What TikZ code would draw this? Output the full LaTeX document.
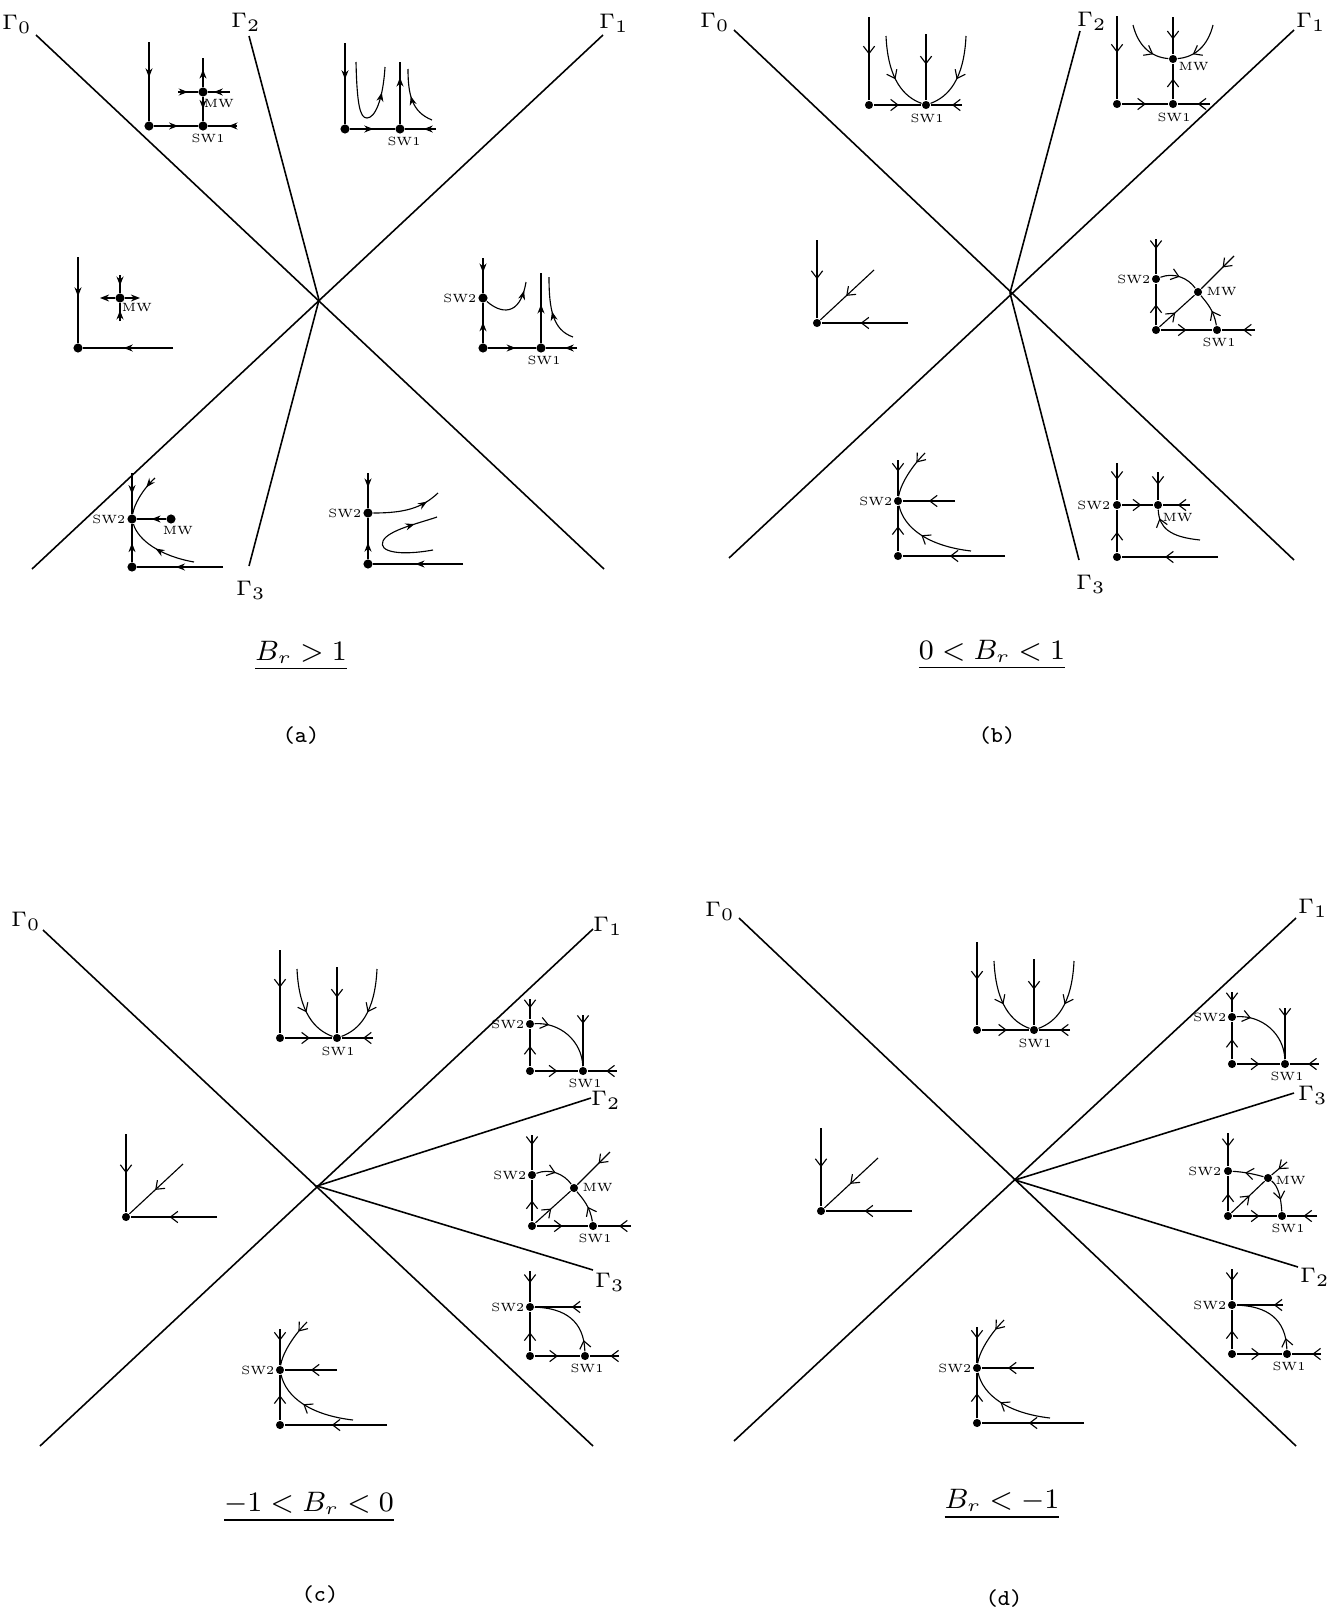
\documentclass[tikz,border=0pt]{standalone}
\usepackage{tikz}
\usetikzlibrary{arrows.meta,decorations.markings}
\tikzset{
  ph/gamma/.style={line width=0.45pt},
  ph/flow/.style={line width=0.32pt},
  ph/dot/.style={circle,fill=black,inner sep=0pt,minimum size=2.3pt},
  ph/mid/.style={postaction={decorate,decoration={markings,mark=at position #1 with {\arrow{>}}}}},
  ph/lbl/.style={font=\fontsize{3.4}{4}\selectfont,inner sep=0pt},
  ph/glbl/.style={font=\fontsize{6.5}{8}\selectfont,inner sep=0pt},
  ph/title/.style={font=\fontsize{7.6}{9}\selectfont,inner sep=0pt},
  ph/tag/.style={font=\fontsize{6.5}{8}\selectfont\ttfamily,inner sep=0pt},
  pics/sink/.style={code={
    \node[ph/dot] (-o) at (0,0) {};
    \node[ph/dot] (-sw1) at (57,0) {};
    \coordinate (-top) at (0,-88);
    \coordinate (-end) at (93,0);
    \coordinate (-vtop) at (57,-71);
    \coordinate (-lc) at (17,-69);
    \coordinate (-rc) at (97,-69);
    \node[ph/lbl] (-t1) at (58,13) {SW1};
    \draw[ph/flow,ph/mid=0.45] (-top) -- (-o);
    \draw[ph/flow,ph/mid=0.53] (-o) -- (-sw1);
    \draw[ph/flow,ph/mid=0.32] (-end) -- (-sw1);
    \draw[ph/flow,ph/mid=0.46] (-vtop) -- (-sw1);
    \draw[ph/flow,ph/mid=0.55] (-lc) .. controls (19,-25) and (35,-8) .. (-sw1);
    \draw[ph/flow,ph/mid=0.55] (-rc) .. controls (95,-25) and (79,-8) .. (-sw1);
  }},
  pics/diag/.style={code={
    \node[ph/dot] (-o) at (0,0) {};
    \coordinate (-top) at (0,-83);
    \coordinate (-end) at (91,0);
    \coordinate (-dtop) at (57,-53);
    \draw[ph/flow,ph/mid=0.5] (-top) -- (-o);
    \draw[ph/flow,ph/mid=0.55] (-end) -- (-o);
    \draw[ph/flow,ph/mid=0.52] (-dtop) -- (-o);
  }},
  pics/swtwo/.style={code={
    \node[ph/dot] (-o) at (0,0) {};
    \node[ph/dot] (-sw2) at (0,-55) {};
    \coordinate (-top) at (0,-96);
    \coordinate (-end) at (107,0);
    \coordinate (-hend) at (57,-55);
    \coordinate (-uc) at (27,-103);
    \coordinate (-lc) at (73,-5);
    \node[ph/lbl,anchor=east] (-t2) at (-5,-55) {SW2};
    \draw[ph/flow,ph/mid=0.32] (-top) -- (-sw2);
    \draw[ph/flow,ph/mid=0.55] (-o) -- (-sw2);
    \draw[ph/flow,ph/mid=0.54] (-end) -- (-o);
    \draw[ph/flow,ph/mid=0.5] (-hend) -- (-sw2);
    \draw[ph/flow,ph/mid=0.25] (-uc) .. controls (12,-88) and (2,-70) .. (-sw2);
    \draw[ph/flow,ph/mid=0.58] (-lc) .. controls (30,-10) and (6,-28) .. (-sw2);
  }},
  pics/arcdown/.style={code={
    \node[ph/dot] (-o) at (0,0) {};
    \node[ph/dot] (-sw2) at (0,-47) {};
    \node[ph/dot] (-sw1) at (53,0) {};
    \coordinate (-top) at (0,-72);
    \coordinate (-end) at (87,0);
    \coordinate (-vtop) at (53,-56);
    \node[ph/lbl,anchor=east] (-t2) at (-5,-47) {SW2};
    \node[ph/lbl] (-t1) at (55,12) {SW1};
    \draw[ph/flow,ph/mid=0.45] (-top) -- (-sw2);
    \draw[ph/flow,ph/mid=0.54] (-o) -- (-sw2);
    \draw[ph/flow,ph/mid=0.52] (-o) -- (-sw1);
    \draw[ph/flow,ph/mid=0.37] (-end) -- (-sw1);
    \draw[ph/flow,ph/mid=0.17] (-vtop) -- (-sw1);
    \draw[ph/flow,ph/mid=0.2] (-sw2) .. controls (30,-49) and (52,-30) .. (-sw1);
  }},
  pics/arcup/.style={code={
    \node[ph/dot] (-o) at (0,0) {};
    \node[ph/dot] (-sw2) at (0,-49) {};
    \node[ph/dot] (-sw1) at (55,0) {};
    \coordinate (-top) at (0,-85);
    \coordinate (-end) at (89,0);
    \coordinate (-hend) at (51,-49);
    \node[ph/lbl,anchor=east] (-t2) at (-5,-49) {SW2};
    \node[ph/lbl] (-t1) at (57,12) {SW1};
    \draw[ph/flow,ph/mid=0.38] (-top) -- (-sw2);
    \draw[ph/flow,ph/mid=0.48] (-o) -- (-sw2);
    \draw[ph/flow,ph/mid=0.51] (-o) -- (-sw1);
    \draw[ph/flow,ph/mid=0.3] (-end) -- (-sw1);
    \draw[ph/flow,ph/mid=0.2] (-hend) -- (-sw2);
    \draw[ph/flow,ph/mid=0.15] (-sw1) .. controls (54,-35) and (35,-48) .. (-sw2);
  }},
  pics/mwnode/.style={code={
    \node[ph/dot] (-o) at (0,0) {};
    \node[ph/dot] (-sw2) at (0,-51) {};
    \node[ph/dot] (-sw1) at (61,0) {};
    \node[ph/dot] (-mw) at (42,-38) {};
    \coordinate (-top) at (0,-91);
    \coordinate (-end) at (99,0);
    \coordinate (-dtop) at (78,-74);
    \node[ph/lbl,anchor=west] (-t3) at (50,-38) {MW};
    \node[ph/lbl,anchor=east] (-t2) at (-5,-51) {SW2};
    \node[ph/lbl] (-t1) at (63,12) {SW1};
    \draw[ph/flow,ph/mid=0.28] (-top) -- (-sw2);
    \draw[ph/flow,ph/mid=0.5] (-o) -- (-sw2);
    \draw[ph/flow,ph/mid=0.5] (-o) -- (-sw1);
    \draw[ph/flow,ph/mid=0.36] (-end) -- (-sw1);
    \draw[ph/flow,ph/mid=0.45] (-o) -- (-mw);
    \draw[ph/flow,ph/mid=0.35] (-dtop) -- (-mw);
    \draw[ph/flow,ph/mid=0.5] (-sw2) .. controls (18,-58) and (32,-52) .. (-mw);
    \draw[ph/flow,ph/mid=0.45] (-sw1) .. controls (58,-20) and (50,-28) .. (-mw);
  }}
}

\begin{document}
\begin{tikzpicture}[x=0.01cm,y=-0.01cm,>={Straight Barb[length=2.1pt,width=3.2pt]}]
  \useasboundingbox (0,0) rectangle (1327,1612);

  \coordinate (a-c) at (319,300);
  \coordinate (a-g0) at (36,35);
  \coordinate (a-g0e) at (604,569);
  \coordinate (a-g1) at (603,35);
  \coordinate (a-g1e) at (32,569);
  \coordinate (a-g2) at (249,36);
  \coordinate (a-g3) at (249,566);
  \draw[ph/gamma] (a-g0) -- (a-g0e);
  \draw[ph/gamma] (a-g1) -- (a-g1e);
  \draw[ph/gamma] (a-g2) -- (a-c) -- (a-g3);
  \node[ph/glbl] (a-l0) at (17,24) {$\Gamma_0$};
  \node[ph/glbl] (a-l1) at (614,23) {$\Gamma_1$};
  \node[ph/glbl] (a-l2) at (246,22) {$\Gamma_2$};
  \node[ph/glbl] (a-l3) at (251,590) {$\Gamma_3$};
  \node[ph/title] (a-title) at (301,656) {$\underline{B_r > 1}$};
  \node[ph/tag] (a-tag) at (301,736) {(a)};

  \begin{scope}[>={Stealth[length=2.6pt,width=2pt]},ph/dot/.append style={minimum size=2.6pt}]
    \node[ph/dot] (a1-o) at (149,126) {};
    \node[ph/dot] (a1-sw1) at (203,126) {};
    \node[ph/dot] (a1-mw) at (203,92) {};
    \coordinate (a1-top) at (149,42);
    \coordinate (a1-end) at (237,126);
    \coordinate (a1-vtop) at (203,58);
    \coordinate (a1-ml) at (178,92);
    \coordinate (a1-mr) at (230,92);
    \node[ph/lbl] (a1-t1) at (208,138) {SW1};
    \node[ph/lbl] (a1-t3) at (219,104) {MW};
    \draw[ph/flow,ph/mid=0.45] (a1-top) -- (a1-o);
    \draw[ph/flow,ph/mid=0.55] (a1-o) -- (a1-sw1);
    \draw[ph/flow,ph/mid=0.3] (a1-end) -- (a1-sw1);
    \draw[ph/flow,ph/mid=0.6] (a1-mw) -- (a1-vtop);
    \draw[ph/flow,ph/mid=0.5] (a1-mw) -- (a1-sw1);
    \draw[ph/flow,ph/mid=0.5] (a1-ml) -- (a1-mw);
    \draw[ph/flow,ph/mid=0.75] (a1-mr) -- (a1-mw);

    \node[ph/dot] (a2-o) at (345,129) {};
    \node[ph/dot] (a2-sw1) at (400,129) {};
    \coordinate (a2-top) at (345,43);
    \coordinate (a2-end) at (436,129);
    \coordinate (a2-vtop) at (400,62);
    \coordinate (a2-u1) at (356,62);
    \coordinate (a2-u2) at (385,67);
    \coordinate (a2-r1) at (432,120);
    \coordinate (a2-r2) at (408,69);
    \node[ph/lbl] (a2-t1) at (404,141) {SW1};
    \draw[ph/flow,ph/mid=0.45] (a2-top) -- (a2-o);
    \draw[ph/flow,ph/mid=0.52] (a2-o) -- (a2-sw1);
    \draw[ph/flow,ph/mid=0.4] (a2-end) -- (a2-sw1);
    \draw[ph/flow,ph/mid=0.75] (a2-sw1) -- (a2-vtop);
    \draw[ph/flow,ph/mid=0.78] (a2-u1) .. controls (357,105) and (360,118) .. (367,118) .. controls (375,118) and (383,100) .. (a2-u2);
    \draw[ph/flow,ph/mid=0.55] (a2-r1) .. controls (412,112) and (408,95) .. (a2-r2);

    \node[ph/dot] (a3-o) at (78,348) {};
    \node[ph/dot] (a3-mw) at (120,298) {};
    \coordinate (a3-top) at (78,257);
    \coordinate (a3-end) at (173,348);
    \coordinate (a3-mt) at (120,275);
    \coordinate (a3-mb) at (120,321);
    \coordinate (a3-ml) at (100,298);
    \coordinate (a3-mr) at (140,298);
    \node[ph/lbl] (a3-t3) at (137,308) {MW};
    \draw[ph/flow,ph/mid=0.46] (a3-top) -- (a3-o);
    \draw[ph/flow,ph/mid=0.55] (a3-end) -- (a3-o);
    \draw[ph/flow,ph/mid=0.6] (a3-mt) -- (a3-mw);
    \draw[ph/flow,ph/mid=0.6] (a3-mb) -- (a3-mw);
    \draw[ph/flow,->] (a3-mw) -- (a3-ml);
    \draw[ph/flow,->] (a3-mw) -- (a3-mr);

    \node[ph/dot] (a4-o) at (483,348) {};
    \node[ph/dot] (a4-sw2) at (483,298) {};
    \node[ph/dot] (a4-sw1) at (541,348) {};
    \coordinate (a4-top) at (483,258);
    \coordinate (a4-end) at (577,348);
    \coordinate (a4-vtop) at (541,273);
    \coordinate (a4-c1) at (526,282);
    \coordinate (a4-r1) at (573,337);
    \coordinate (a4-r2) at (549,277);
    \node[ph/lbl,anchor=east] (a4-t2) at (477,298) {SW2};
    \node[ph/lbl] (a4-t1) at (544,360) {SW1};
    \draw[ph/flow,ph/mid=0.42] (a4-top) -- (a4-sw2);
    \draw[ph/flow,ph/mid=0.52] (a4-o) -- (a4-sw2);
    \draw[ph/flow,ph/mid=0.58] (a4-o) -- (a4-sw1);
    \draw[ph/flow,ph/mid=0.4] (a4-end) -- (a4-sw1);
    \draw[ph/flow,ph/mid=0.55] (a4-sw1) -- (a4-vtop);
    \draw[ph/flow,ph/mid=0.85] (a4-sw2) .. controls (500,313) and (520,318) .. (a4-c1);
    \draw[ph/flow,ph/mid=0.5] (a4-r1) .. controls (553,330) and (549,310) .. (a4-r2);

    \node[ph/dot] (a5-o) at (132,567) {};
    \node[ph/dot] (a5-sw2) at (132,519) {};
    \node[ph/dot] (a5-mw) at (171,519) {};
    \coordinate (a5-top) at (132,473);
    \coordinate (a5-end) at (223,567);
    \coordinate (a5-u) at (155,478);
    \coordinate (a5-l) at (194,562);
    \node[ph/lbl,anchor=east] (a5-t2) at (126,519) {SW2};
    \node[ph/lbl] (a5-t3) at (178,531) {MW};
    \draw[ph/flow,ph/mid=0.52] (a5-top) -- (a5-sw2);
    \draw[ph/flow,ph/mid=0.5] (a5-o) -- (a5-sw2);
    \draw[ph/flow,ph/mid=0.55] (a5-end) -- (a5-o);
    \draw[ph/flow,ph/mid=0.5] (a5-mw) -- (a5-sw2);
    \draw[ph/flow,ph/mid=0.3] (a5-u) .. controls (142,490) and (134,505) .. (a5-sw2);
    \draw[ph/flow,ph/mid=0.55] (a5-l) .. controls (160,556) and (138,540) .. (a5-sw2);

    \node[ph/dot] (a6-o) at (368,564) {};
    \node[ph/dot] (a6-sw2) at (368,513) {};
    \coordinate (a6-top) at (368,473);
    \coordinate (a6-end) at (463,564);
    \coordinate (a6-c1) at (438,493);
    \coordinate (a6-u1) at (433,550);
    \coordinate (a6-u2) at (437,517);
    \node[ph/lbl,anchor=east] (a6-t2) at (362,513) {SW2};
    \draw[ph/flow,ph/mid=0.42] (a6-top) -- (a6-sw2);
    \draw[ph/flow,ph/mid=0.4] (a6-o) -- (a6-sw2);
    \draw[ph/flow,ph/mid=0.53] (a6-end) -- (a6-o);
    \draw[ph/flow,ph/mid=0.8] (a6-sw2) .. controls (405,513) and (422,508) .. (a6-c1);
    \draw[ph/flow,ph/mid=0.8] (a6-u1) .. controls (400,556) and (378,552) .. (383,541) .. controls (388,530) and (420,523) .. (a6-u2);
  \end{scope}

  \coordinate (b-c) at (1010,293);
  \coordinate (b-g0) at (734,30);
  \coordinate (b-g0e) at (1294,560);
  \coordinate (b-g1) at (1294,30);
  \coordinate (b-g1e) at (729,558);
  \coordinate (b-g2) at (1080,31);
  \coordinate (b-g3) at (1079,560);
  \draw[ph/gamma] (b-g0) -- (b-g0e);
  \draw[ph/gamma] (b-g1) -- (b-g1e);
  \draw[ph/gamma] (b-g2) -- (b-c) -- (b-g3);
  \node[ph/glbl] (b-l0) at (715,22) {$\Gamma_0$};
  \node[ph/glbl] (b-l1) at (1311,22) {$\Gamma_1$};
  \node[ph/glbl] (b-l2) at (1092,21) {$\Gamma_2$};
  \node[ph/glbl] (b-l3) at (1091,584) {$\Gamma_3$};
  \node[ph/title] (b-title) at (992,655) {$\underline{0 < B_r < 1}$};
  \node[ph/tag] (b-tag) at (997,736) {(b)};

  \pic (b1) at (869,105) {sink};

  \node[ph/dot] (b2-o) at (1117,104) {};
  \node[ph/dot] (b2-sw1) at (1173,104) {};
  \node[ph/dot] (b2-mw) at (1173,59) {};
  \coordinate (b2-top) at (1117,16);
  \coordinate (b2-end) at (1210,104);
  \coordinate (b2-vtop) at (1173,17);
  \coordinate (b2-lc) at (1133,25);
  \coordinate (b2-rc) at (1213,25);
  \node[ph/lbl] (b2-t1) at (1174,117) {SW1};
  \node[ph/lbl,anchor=west] (b2-t3) at (1178,67) {MW};
  \draw[ph/flow,ph/mid=0.44] (b2-top) -- (b2-o);
  \draw[ph/flow,ph/mid=0.52] (b2-o) -- (b2-sw1);
  \draw[ph/flow,ph/mid=0.38] (b2-end) -- (b2-sw1);
  \draw[ph/flow,ph/mid=0.58] (b2-sw1) -- (b2-mw);
  \draw[ph/flow,ph/mid=0.6] (b2-vtop) -- (b2-mw);
  \draw[ph/flow,ph/mid=0.7] (b2-lc) .. controls (1138,45) and (1150,57) .. (b2-mw);
  \draw[ph/flow,ph/mid=0.7] (b2-rc) .. controls (1208,45) and (1196,57) .. (b2-mw);

  \pic (b3) at (817,323) {diag};
  \pic (b4) at (1156,330) {mwnode};
  \pic (b5) at (898,556) {swtwo};

  \node[ph/dot] (b6-o) at (1117,557) {};
  \node[ph/dot] (b6-sw2) at (1117,505) {};
  \node[ph/dot] (b6-mw) at (1158,505) {};
  \coordinate (b6-top) at (1117,463);
  \coordinate (b6-end) at (1218,557);
  \coordinate (b6-mend) at (1190,505);
  \coordinate (b6-mtop) at (1158,472);
  \coordinate (b6-c) at (1200,540);
  \node[ph/lbl,anchor=east] (b6-t2) at (1111,505) {SW2};
  \node[ph/lbl,anchor=west] (b6-t3) at (1162,518) {MW};
  \draw[ph/flow,ph/mid=0.45] (b6-top) -- (b6-sw2);
  \draw[ph/flow,ph/mid=0.48] (b6-o) -- (b6-sw2);
  \draw[ph/flow,ph/mid=0.55] (b6-end) -- (b6-o);
  \draw[ph/flow,ph/mid=0.62] (b6-sw2) -- (b6-mw);
  \draw[ph/flow,ph/mid=0.45] (b6-mend) -- (b6-mw);
  \draw[ph/flow,ph/mid=0.45] (b6-mtop) -- (b6-mw);
  \draw[ph/flow,ph/mid=0.85] (b6-c) .. controls (1170,537) and (1159,528) .. (b6-mw);

  \coordinate (c-c) at (317,1186);
  \coordinate (c-g0) at (43,930);
  \coordinate (c-g0e) at (593,1446);
  \coordinate (c-g1) at (593,929);
  \coordinate (c-g1e) at (40,1446);
  \coordinate (c-g2) at (591,1098);
  \coordinate (c-g3) at (593,1270);
  \draw[ph/gamma] (c-g0) -- (c-g0e);
  \draw[ph/gamma] (c-g1) -- (c-g1e);
  \draw[ph/gamma] (c-g2) -- (c-c) -- (c-g3);
  \node[ph/glbl] (c-l0) at (26,921) {$\Gamma_0$};
  \node[ph/glbl] (c-l1) at (608,926) {$\Gamma_1$};
  \node[ph/glbl] (c-l2) at (606,1100) {$\Gamma_2$};
  \node[ph/glbl] (c-l3) at (610,1282) {$\Gamma_3$};
  \node[ph/title] (c-title) at (309,1507) {$\underline{-1 < B_r < 0}$};
  \node[ph/tag] (c-tag) at (320,1594) {(c)};

  \pic (c1) at (280,1038) {sink};
  \pic (c2) at (530,1071) {arcdown};
  \pic (c3) at (532,1226) {mwnode};
  \pic (c4) at (530,1356) {arcup};
  \pic (c5) at (280,1425) {swtwo};
  \pic (c6) at (126,1217) {diag};

  \coordinate (d-c) at (1015,1180);
  \coordinate (d-g0) at (739,918);
  \coordinate (d-g0e) at (1296,1446);
  \coordinate (d-g1) at (1296,918);
  \coordinate (d-g1e) at (734,1441);
  \coordinate (d-g3) at (1294,1093);
  \coordinate (d-g2) at (1298,1267);
  \draw[ph/gamma] (d-g0) -- (d-g0e);
  \draw[ph/gamma] (d-g1) -- (d-g1e);
  \draw[ph/gamma] (d-g3) -- (d-c) -- (d-g2);
  \node[ph/glbl] (d-l0) at (720,911) {$\Gamma_0$};
  \node[ph/glbl] (d-l1) at (1313,908) {$\Gamma_1$};
  \node[ph/glbl] (d-l3) at (1313,1095) {$\Gamma_3$};
  \node[ph/glbl] (d-l2) at (1315,1277) {$\Gamma_2$};
  \node[ph/title] (d-title) at (1002,1504) {$\underline{B_r < -1}$};
  \node[ph/tag] (d-tag) at (1004,1598) {(d)};

  \pic (d1) at (977,1030) {sink};
  \pic (d2) at (1232,1064) {arcdown};

  \node[ph/dot] (d3-o) at (1228,1216) {};
  \node[ph/dot] (d3-sw2) at (1228,1171) {};
  \node[ph/dot] (d3-sw1) at (1282,1216) {};
  \node[ph/dot] (d3-mw) at (1268,1178) {};
  \coordinate (d3-top) at (1228,1133);
  \coordinate (d3-end) at (1317,1216);
  \coordinate (d3-dtop) at (1287,1162);
  \node[ph/lbl,anchor=east] (d3-t2) at (1222,1171) {SW2};
  \node[ph/lbl,anchor=west] (d3-t3) at (1275,1181) {MW};
  \node[ph/lbl] (d3-t1) at (1288,1228) {SW1};
  \draw[ph/flow,ph/mid=0.42] (d3-top) -- (d3-sw2);
  \draw[ph/flow,ph/mid=0.5] (d3-o) -- (d3-sw2);
  \draw[ph/flow,ph/mid=0.6] (d3-o) -- (d3-sw1);
  \draw[ph/flow,ph/mid=0.45] (d3-end) -- (d3-sw1);
  \draw[ph/flow,ph/mid=0.55] (d3-o) -- (d3-mw);
  \draw[ph/flow,ph/mid=0.55] (d3-dtop) -- (d3-mw);
  \draw[ph/flow,ph/mid=0.6] (d3-mw) .. controls (1254,1174) and (1244,1172) .. (d3-sw2);
  \draw[ph/flow,ph/mid=0.65] (d3-mw) .. controls (1278,1186) and (1281,1197) .. (d3-sw1);

  \pic (d4) at (1232,1354) {arcup};
  \pic (d5) at (977,1423) {swtwo};
  \pic (d6) at (821,1211) {diag};
\end{tikzpicture}
\end{document}
